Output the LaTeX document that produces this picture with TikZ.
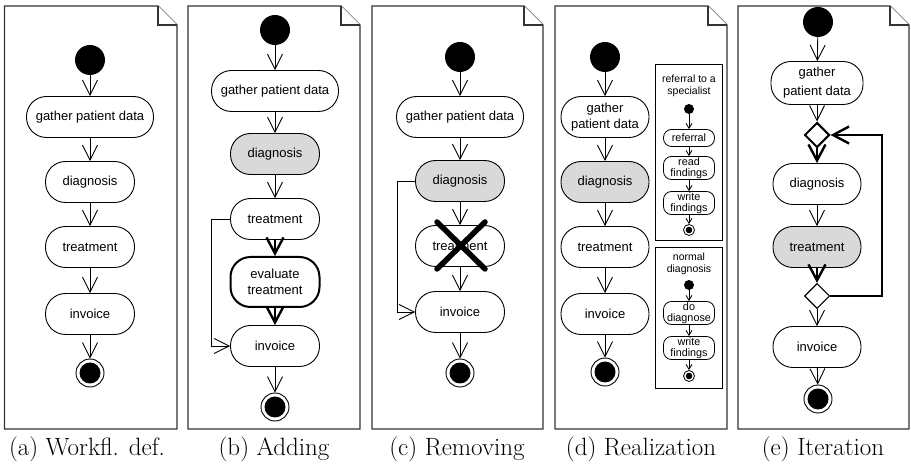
\documentclass[tikz,border=0pt]{standalone}
\usepackage{fontspec}
\newfontfamily\arial{Liberation Sans}
\usetikzlibrary{arrows.meta,shapes.geometric}

% one sheet with a folded top-right corner: #1 = left x, #2 = right x
\newcommand\docpage[2]{%
  \draw[page] (#1,6) -- ({#2-19},6) -- (#2,25) -- (#2,429) -- (#1,429) -- cycle;
  \draw[page] ({#2-19},6) -- ({#2-19},25) -- (#2,25);}

\begin{document}
\begin{tikzpicture}[x=1pt,y=-1pt,
  page/.style={draw=black!80, line width=1.3pt, fill=white, line join=miter},
  act/.style={draw, line width=0.9pt, rounded corners=20pt, minimum height=41pt,
    minimum width=89pt, inner sep=1pt, align=center,
    font=\arial\fontsize{13}{16}\selectfont},
  wide/.style={minimum width=127pt},
  hl/.style={fill=black!15},
  sub/.style={draw, line width=0.8pt, rounded corners=8pt, minimum height=17pt,
    minimum width=51pt, inner sep=0.5pt, align=center,
    font=\arial\fontsize{10.8}{11.5}\selectfont},
  subtitle/.style={align=center, inner sep=0pt, font=\arial\fontsize{10.5}{11.5}\selectfont},
  initial/.style={circle, fill=black, minimum size=30pt, inner sep=0pt},
  final/.style={circle, draw, line width=0.9pt, minimum size=28pt, inner sep=0pt,
    path picture={\fill (path picture bounding box.center) circle (10.5pt);}},
  sinitial/.style={circle, fill=black, minimum size=10pt, inner sep=0pt},
  sfinal/.style={circle, draw, line width=0.8pt, minimum size=11pt, inner sep=0pt,
    path picture={\fill (path picture bounding box.center) circle (3.3pt);}},
  decision/.style={diamond, draw, fill=white, minimum width=25pt, minimum height=25pt,
    inner sep=0pt, aspect=1},
  arr/.style={-{Straight Barb[length=15pt,width=15pt]}, line width=0.9pt},
  thickarr/.style={-{Straight Barb[length=16pt,width=17pt]}, line width=2.4pt},
  sarr/.style={-{Straight Barb[length=5pt,width=6pt]}, line width=0.8pt},
  subbox/.style={draw, line width=1pt, fill=white},
  caption/.style={anchor=base, inner sep=0pt, font=\fontsize{25}{29}\selectfont},
]
\useasboundingbox (0,0) rectangle (911,470);

% ---------- (a) workflow definition ----------
\docpage{4.5}{177}
\node[initial] (a0) at (90,60) {};
\node[act, wide] (a1) at (90,117) {gather patient data};
\node[act] (a2) at (90,182) {diagnosis};
\node[act] (a3) at (90,247) {treatment};
\node[act] (a4) at (90,314) {invoice};
\node[final] (a5) at (90,373) {};
\draw[arr] (a0) -- (a1);
\draw[arr] (a1) -- (a2);
\draw[arr] (a2) -- (a3);
\draw[arr] (a3) -- (a4);
\draw[arr] (a4) -- (a5);
\node[caption] (capa) at (87,456) {(a) Workfl. def.};

% ---------- (b) adding an activity ----------
\docpage{188}{360}
\node[initial] (b0) at (275,30) {};
\node[act, wide] (b1) at (275,91) {gather patient data};
\node[act, hl] (b2) at (275,154) {diagnosis};
\node[act] (b3) at (275,219) {treatment};
\node[act, line width=2pt, minimum height=50pt] (b4) at (275,282) {evaluate\\treatment};
\node[act] (b5) at (275,346) {invoice};
\node[final] (b6) at (275,407) {};
\draw[arr] (b0) -- (b1);
\draw[arr] (b1) -- (b2);
\draw[arr] (b2) -- (b3);
\draw[thickarr] (b3) -- (b4);
\draw[thickarr] (b4) -- (b5);
\draw[arr] (b5) -- (b6);
\draw[arr] (b3.west) -- ++(-19,0) |- (b5.west);
\node[caption] (capb) at (274,456) {(b) Adding};

% ---------- (c) removing an activity ----------
\docpage{372}{543}
\node[initial] (c0) at (460,57) {};
\node[act, wide] (c1) at (460,117) {gather patient data};
\node[act, hl] (c2) at (460,181) {diagnosis};
\node[act] (c3) at (460,246) {treatment};
\node[act] (c4) at (460,312) {invoice};
\node[final] (c5) at (460,373) {};
\draw[arr] (c0) -- (c1);
\draw[arr] (c1) -- (c2);
\draw[arr] (c2) -- (c3);
\draw[arr] (c3) -- (c4);
\draw[arr] (c4) -- (c5);
\draw[arr] (c2.west) -- ++(-18,0) |- (c4.west);
% strike-out of the removed activity
\draw[line width=5.5pt, line cap=round] (437,222) -- (485,269);
\draw[line width=5.5pt, line cap=round] (485,222) -- (437,269);
\node[caption] (capc) at (457,456) {(c) Removing};

% ---------- (d) realization ----------
\docpage{555}{727}
\node[initial] (d0) at (605,57) {};
\node[act, minimum width=88pt] (d1) at (605,117) {gather\\patient data};
\node[act, hl, minimum width=88pt] (d2) at (605,182) {diagnosis};
\node[act, minimum width=88pt] (d3) at (605,247) {treatment};
\node[act, minimum width=88pt] (d4) at (605,314) {invoice};
\node[final] (d5) at (605,372) {};
\draw[arr] (d0) -- (d1);
\draw[arr] (d1) -- (d2);
\draw[arr] (d2) -- (d3);
\draw[arr] (d3) -- (d4);
\draw[arr] (d4) -- (d5);

% realization: referral to a specialist
\draw[subbox] (655,65) rectangle (722,241);
\node[subtitle] (rt) at (689,86) {referral to a\\specialist};
\node[sinitial] (r0) at (689,109) {};
\node[sub] (r1) at (689,138) {referral};
\node[sub, minimum height=23pt] (r2) at (689,168) {read\\findings};
\node[sub, minimum height=23pt] (r3) at (689,203) {write\\findings};
\node[sfinal] (r4) at (689,230) {};
\draw[sarr] (r0) -- (r1);
\draw[sarr] (r1) -- (r2);
\draw[sarr] (r2) -- (r3);
\draw[sarr] (r3) -- (r4);

% realization: normal diagnosis
\draw[subbox] (655,248) rectangle (722,389);
\node[subtitle] (nt) at (689,264) {normal\\diagnosis};
\node[sinitial] (n0) at (689,285) {};
\node[sub, minimum height=23pt] (n1) at (689,313) {do\\diagnose};
\node[sub, minimum height=23pt] (n2) at (689,348) {write\\findings};
\node[sfinal] (n3) at (689,376) {};
\draw[sarr] (n0) -- (n1);
\draw[sarr] (n1) -- (n2);
\draw[sarr] (n2) -- (n3);
\node[caption] (capd) at (641,456) {(d) Realization};

% ---------- (e) iteration ----------
\docpage{738}{909}
\node[initial] (e0) at (818,22) {};
\node[act, minimum width=92pt, minimum height=43pt,
      font=\arial\fontsize{13}{19}\selectfont] (e1) at (817,83) {gather\\patient data};
\node[decision, line width=2pt] (e2) at (817,135) {};
\node[act, minimum width=88pt] (e3) at (817,184) {diagnosis};
\node[act, hl, minimum width=88pt] (e4) at (817,247) {treatment};
\node[decision, line width=1.1pt] (e5) at (817,296) {};
\node[act, minimum width=88pt] (e6) at (817,347) {invoice};
\node[final] (e7) at (818,399) {};
\draw[arr] (e0) -- (e1);
\draw[arr] (e1) -- (e2);
\draw[thickarr] (e2) -- (e3);
\draw[arr] (e3) -- (e4);
\draw[thickarr] (e4) -- (e5);
\draw[arr] (e5) -- (e6);
\draw[arr] (e6) -- (e7);
\draw[thickarr] (e5.east) -- ++(52,0) |- (e2.east);
\node[caption] (cape) at (823,456) {(e) Iteration};
\end{tikzpicture}
\end{document}
